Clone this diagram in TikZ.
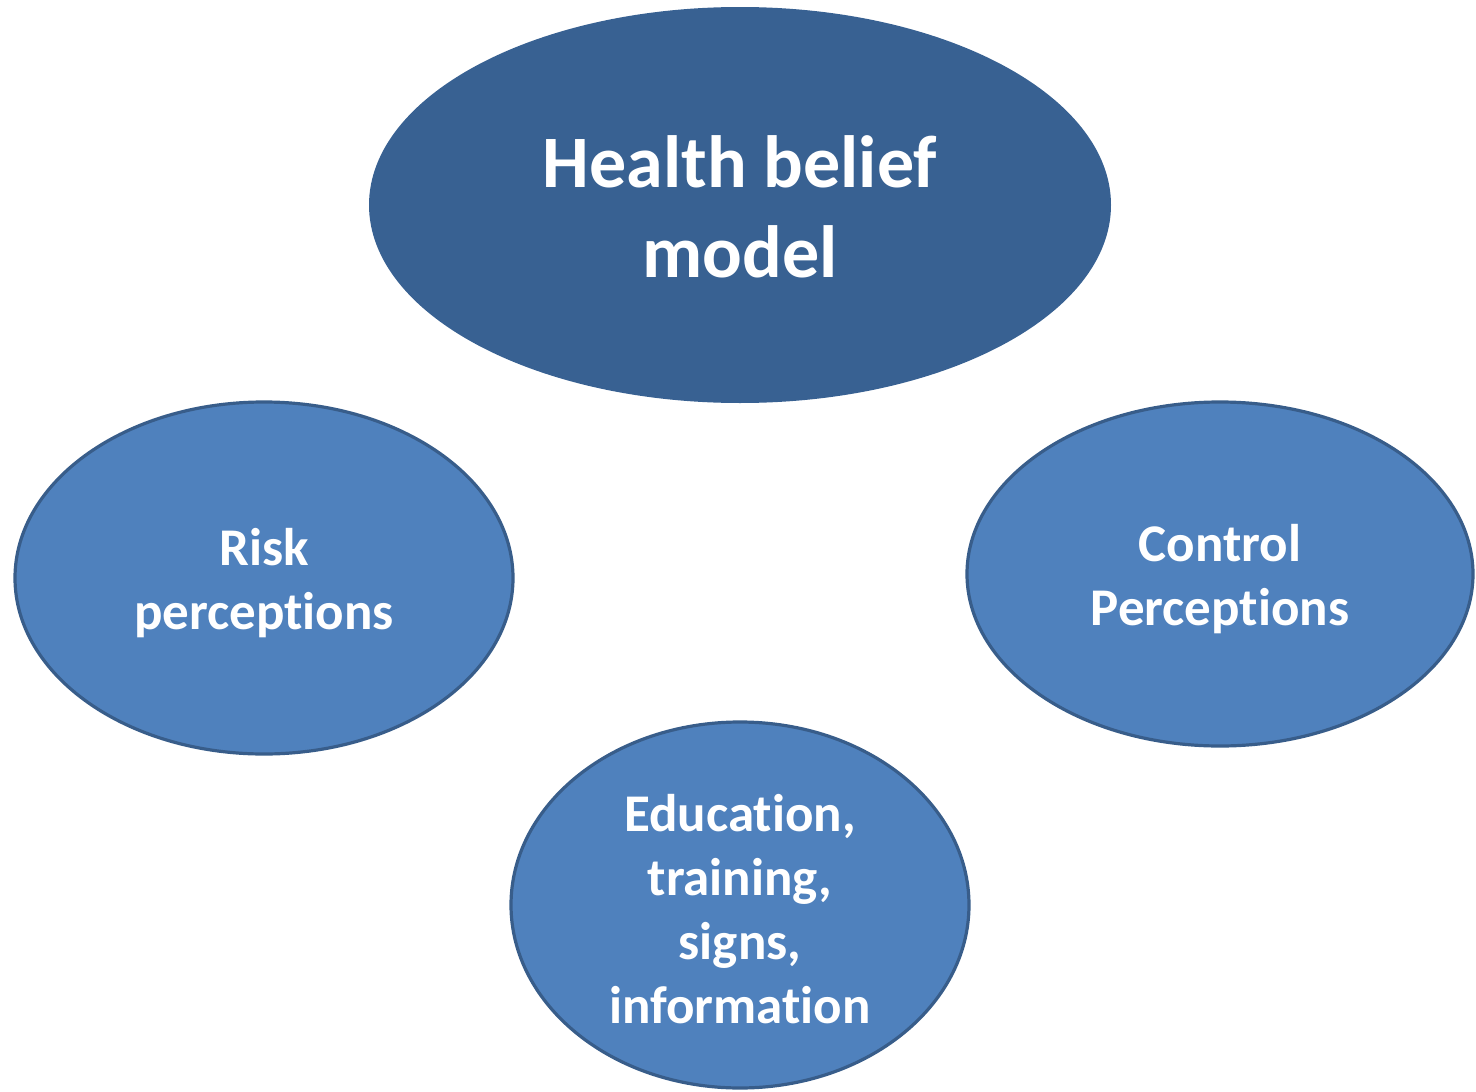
\documentclass[tikz,border=0pt]{standalone}
\usepackage{fontspec}
\setmainfont{Carlito}[Ligatures={NoCommon,NoContextual},Contextuals={ResetAll}]
\usetikzlibrary{shapes.geometric}
\definecolor{topfill}{RGB}{56,97,146}
\definecolor{subfill}{RGB}{79,129,189}
\definecolor{subdraw}{RGB}{56,93,138}
\tikzset{
  bubble/.style={ellipse, inner sep=0pt, line width=3.2pt, fill=subfill, draw=subdraw},
  topbubble/.style={ellipse, inner sep=0pt, line width=2pt, fill=topfill, draw=topfill},
  subtext/.style={text=white, align=center, inner sep=0pt, font=\bfseries\fontsize{53}{64}\selectfont},
  toptext/.style={text=white, align=center, inner sep=0pt, font=\bfseries\fontsize{74}{90}\selectfont}
}
\begin{document}
\begin{tikzpicture}[x=1pt,y=-1pt]
\useasboundingbox (0,0) rectangle (1476,1092);
\node[topbubble, minimum width=740pt, minimum height=394pt] (hbm) at (740,205) {};
\node[bubble, minimum width=498pt, minimum height=352pt] (risk) at (264,578) {};
\node[bubble, minimum width=506pt, minimum height=344pt] (ctrl) at (1220,574) {};
\node[bubble, minimum width=458pt, minimum height=366pt] (edu) at (740,905) {};
\node[toptext] (hbmtext) at ([yshift=-2pt]hbm.center) {Health belief\\model};
\node[subtext] (risktext) at ([yshift=-5pt]risk.center) {Risk\\perceptions};
\node[subtext] (ctrltext) at ([yshift=-5pt]ctrl.center) {Control\\Perceptions};
\node[subtext] (edutext) at ([yshift=-4pt]edu.center) {Education,\\training,\\signs,\\information};
\end{tikzpicture}
\end{document}
